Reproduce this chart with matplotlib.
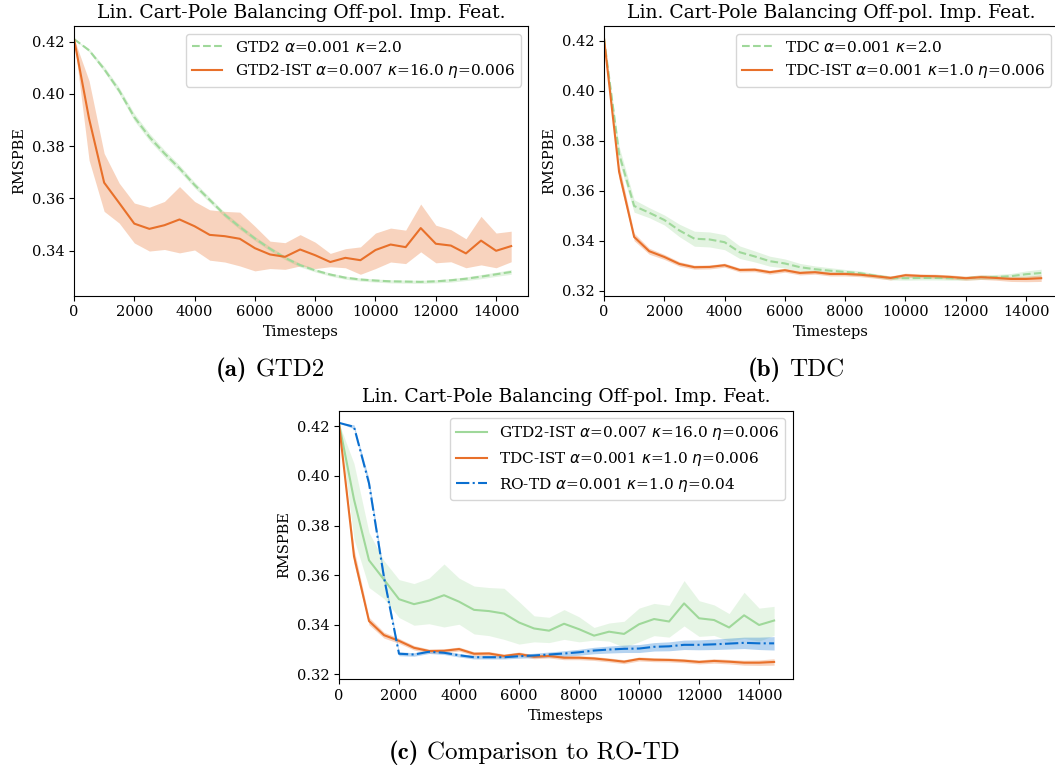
import numpy as np
import matplotlib
matplotlib.use("Agg")
import matplotlib.pyplot as plt

plt.rcParams["font.family"] = "DejaVu Serif"
plt.rcParams["font.size"] = 10.5

# ---- data -------------------------------------------------------------
timesteps = np.arange(0, 14501, 500)

gtd2_mean = [0.4210, 0.4167, 0.4095, 0.4012, 0.3911, 0.3835, 0.3772, 0.3715, 0.3651, 0.3594,
             0.3537, 0.3490, 0.3446, 0.3407, 0.3372, 0.3344, 0.3324, 0.3308, 0.3296, 0.3289,
             0.3285, 0.3282, 0.3281, 0.3280, 0.3282, 0.3286, 0.3292, 0.3300, 0.3309, 0.3318]
gtd2_std = [0.0000, 0.0006, 0.0010, 0.0012, 0.0014, 0.0014, 0.0013, 0.0012, 0.0011, 0.0010,
            0.0009, 0.0009, 0.0008, 0.0008, 0.0007, 0.0007, 0.0006, 0.0006, 0.0006, 0.0006,
            0.0006, 0.0006, 0.0006, 0.0006, 0.0006, 0.0007, 0.0007, 0.0008, 0.0008, 0.0009]

gtd2_ist_mean = [0.4212, 0.3905, 0.3660, 0.3582, 0.3503, 0.3483, 0.3497, 0.3519, 0.3493, 0.3460,
                 0.3455, 0.3445, 0.3409, 0.3385, 0.3376, 0.3404, 0.3382, 0.3356, 0.3372, 0.3363,
                 0.3402, 0.3423, 0.3413, 0.3486, 0.3426, 0.3419, 0.3389, 0.3438, 0.3399, 0.3417]
gtd2_ist_upper = [0.4212, 0.4050, 0.3772, 0.3658, 0.3582, 0.3566, 0.3588, 0.3645, 0.3588, 0.3556,
                  0.3550, 0.3547, 0.3493, 0.3436, 0.3430, 0.3461, 0.3432, 0.3389, 0.3407, 0.3414,
                  0.3467, 0.3486, 0.3478, 0.3578, 0.3497, 0.3480, 0.3445, 0.3531, 0.3467, 0.3474]
gtd2_ist_lower = [0.4212, 0.3746, 0.3550, 0.3505, 0.3429, 0.3398, 0.3404, 0.3391, 0.3402, 0.3363,
                  0.3356, 0.3341, 0.3322, 0.3331, 0.3328, 0.3341, 0.3331, 0.3338, 0.3334, 0.3309,
                  0.3331, 0.3356, 0.3350, 0.3395, 0.3353, 0.3357, 0.3334, 0.3345, 0.3334, 0.3357]

tdc_mean = [0.4210, 0.3747, 0.3539, 0.3512, 0.3483, 0.3441, 0.3408, 0.3405, 0.3394, 0.3354,
            0.3337, 0.3318, 0.3309, 0.3294, 0.3286, 0.3280, 0.3275, 0.3270, 0.3260, 0.3251,
            0.3250, 0.3251, 0.3251, 0.3250, 0.3250, 0.3254, 0.3255, 0.3258, 0.3266, 0.3271]
tdc_std = [0.0000, 0.0030, 0.0025, 0.0020, 0.0020, 0.0025, 0.0030, 0.0030, 0.0030, 0.0025,
           0.0022, 0.0020, 0.0018, 0.0015, 0.0013, 0.0012, 0.0010, 0.0009, 0.0008, 0.0008,
           0.0008, 0.0008, 0.0008, 0.0008, 0.0008, 0.0009, 0.0010, 0.0011, 0.0013, 0.0015]

tdc_ist_mean = [0.4210, 0.3676, 0.3415, 0.3358, 0.3335, 0.3307, 0.3294, 0.3295, 0.3302, 0.3283,
                0.3284, 0.3274, 0.3282, 0.3271, 0.3274, 0.3267, 0.3267, 0.3264, 0.3258, 0.3251,
                0.3262, 0.3259, 0.3258, 0.3255, 0.3250, 0.3254, 0.3251, 0.3247, 0.3247, 0.3250]
tdc_ist_std = [0.0000, 0.0030, 0.0015, 0.0012, 0.0010, 0.0009, 0.0008, 0.0008, 0.0008, 0.0008,
               0.0008, 0.0008, 0.0008, 0.0008, 0.0008, 0.0008, 0.0008, 0.0008, 0.0008, 0.0008,
               0.0008, 0.0008, 0.0008, 0.0008, 0.0008, 0.0009, 0.0009, 0.0010, 0.0011, 0.0013]

rotd_mean = [0.4214, 0.4198, 0.3970, 0.3590, 0.3283, 0.3280, 0.3291, 0.3287, 0.3277, 0.3269,
             0.3269, 0.3269, 0.3273, 0.3276, 0.3280, 0.3284, 0.3289, 0.3296, 0.3300, 0.3303,
             0.3304, 0.3311, 0.3313, 0.3319, 0.3319, 0.3321, 0.3324, 0.3327, 0.3325, 0.3325]
rotd_std = [0.0000, 0.0008, 0.0018, 0.0018, 0.0008, 0.0007, 0.0007, 0.0007, 0.0007, 0.0007,
            0.0007, 0.0007, 0.0008, 0.0009, 0.0010, 0.0011, 0.0012, 0.0013, 0.0014, 0.0015,
            0.0016, 0.0017, 0.0018, 0.0019, 0.0020, 0.0021, 0.0022, 0.0023, 0.0025, 0.0027]

title = "Lin. Cart-Pole Balancing Off-pol. Imp. Feat."
yticks = [0.32, 0.34, 0.36, 0.38, 0.40, 0.42]
xticks = [0, 2000, 4000, 6000, 8000, 10000, 12000, 14000]
captions = [("(a)", "GTD2"), ("(b)", "TDC"), ("(c)", "Comparison to RO-TD")]

ORANGE = "#e8702a"
GREEN = "#9fd89a"
BLUE = "#0a6fd0"

# ---- figure -----------------------------------------------------------
W, H = 1055, 769
fig = plt.figure(figsize=(W / 100, H / 100), dpi=100)


def box(left, right, top, bottom):
    return [left / W, 1 - bottom / H, (right - left) / W, (bottom - top) / H]


ax_a = fig.add_axes(box(74, 528.3, 26, 295.7))
ax_b = fig.add_axes(box(604, 1058.3, 26, 295.7))
ax_c = fig.add_axes(box(339, 792.7, 410.7, 679.3))


def band(ax, mean, lo, hi, color, ls, label, lw=1.5, alpha=0.3):
    ax.fill_between(timesteps, lo, hi, color=color, alpha=alpha, lw=0)
    ax.plot(timesteps, mean, color=color, ls=ls, lw=lw, label=label)


def sym(mean, std):
    m = np.asarray(mean)
    s = np.asarray(std)
    return m, m - s, m + s


def style(ax, xmax, ylim):
    ax.set_xlim(0, xmax)
    ax.set_ylim(*ylim)
    ax.set_xticks(xticks)
    ax.set_yticks([t for t in yticks if ylim[0] <= t <= ylim[1]])
    ax.yaxis.set_major_formatter(matplotlib.ticker.FormatStrFormatter("%.2f"))
    ax.set_xlabel("Timesteps")
    ax.set_ylabel("RMSPBE")
    ax.set_title(title, fontsize=13.5)
    ax.legend(loc="upper right", fontsize=11)


# (a) GTD2
m, lo, hi = sym(gtd2_mean, gtd2_std)
band(ax_a, m, lo, hi, GREEN, "--", r"GTD2 $\alpha$=0.001 $\kappa$=2.0", alpha=0.3)
band(ax_a, gtd2_ist_mean, gtd2_ist_lower, gtd2_ist_upper, ORANGE, "-",
     r"GTD2-IST $\alpha$=0.007 $\kappa$=16.0 $\eta$=0.006")
style(ax_a, 15068, (0.3227, 0.4260))

# (b) TDC
m, lo, hi = sym(tdc_mean, tdc_std)
band(ax_b, m, lo, hi, GREEN, "--", r"TDC $\alpha$=0.001 $\kappa$=2.0")
m, lo, hi = sym(tdc_ist_mean, tdc_ist_std)
band(ax_b, m, lo, hi, ORANGE, "-", r"TDC-IST $\alpha$=0.001 $\kappa$=1.0 $\eta$=0.006")
style(ax_b, 15068, (0.318, 0.4259))

# (c) comparison
band(ax_c, gtd2_ist_mean, gtd2_ist_lower, gtd2_ist_upper, GREEN, "-",
     r"GTD2-IST $\alpha$=0.007 $\kappa$=16.0 $\eta$=0.006", alpha=0.25)
m, lo, hi = sym(tdc_ist_mean, tdc_ist_std)
band(ax_c, m, lo, hi, ORANGE, "-", r"TDC-IST $\alpha$=0.001 $\kappa$=1.0 $\eta$=0.006")
m, lo, hi = sym(rotd_mean, rotd_std)
band(ax_c, m, lo, hi, BLUE, "-.", r"RO-TD $\alpha$=0.001 $\kappa$=1.0 $\eta$=0.04")
style(ax_c, 15120, (0.318, 0.4263))

# sub-figure captions: bold tag followed by regular text, centred as a pair
renderer = fig.canvas.get_renderer()
cap_size = 18
cap_pos = [(270, 370), (796, 370), (534, 753)]
for (tag, text), (cx, cy) in zip(captions, cap_pos):
    t1 = fig.text(0, 1 - cy / H, tag, fontfamily="cmb10", fontsize=cap_size,
                  ha="left", va="center")
    t2 = fig.text(0, 1 - cy / H, text, fontfamily="cmr10", fontsize=cap_size,
                  ha="left", va="center")
    w1 = t1.get_window_extent(renderer).width
    w2 = t2.get_window_extent(renderer).width
    gap = 0.33 * cap_size * 100 / 72
    x0 = cx - (w1 + gap + w2) / 2
    t1.set_x(x0 / W)
    t2.set_x((x0 + w1 + gap) / W)

fig.savefig("out.png", dpi=100)
